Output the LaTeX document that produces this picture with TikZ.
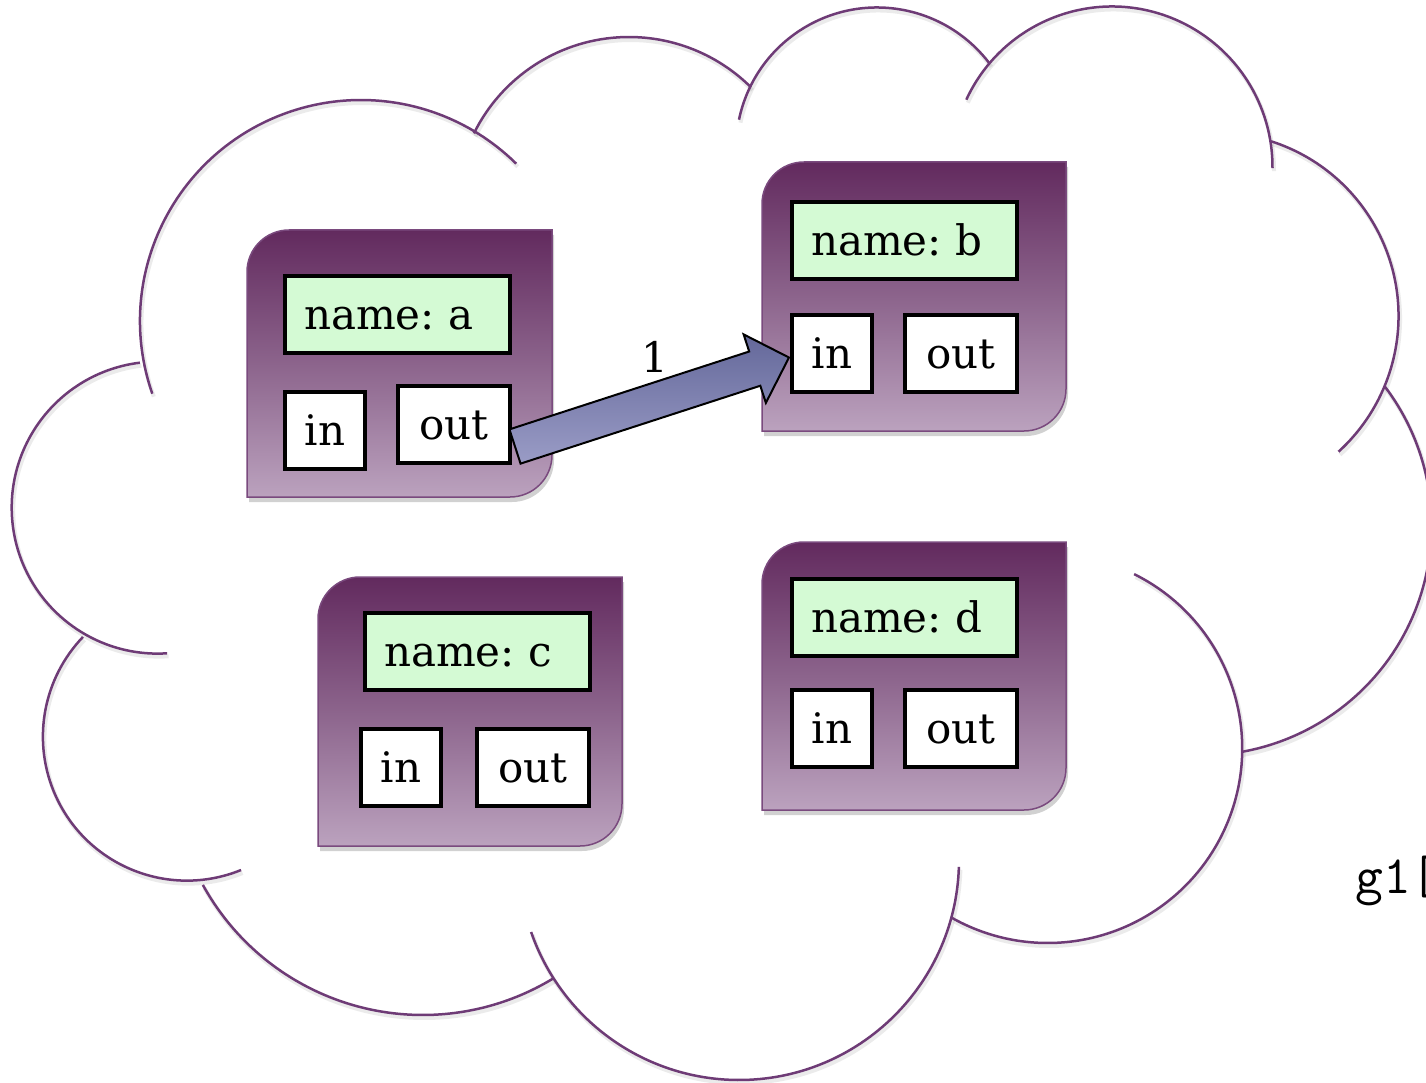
\documentclass[tikz,border=0pt]{standalone}
\usepackage{fontspec}
\setmainfont{DejaVu Serif}
\usetikzlibrary{shapes.arrows,shadows,calc}
\definecolor{cloudline}{HTML}{6E3B76}
\definecolor{boxtop}{HTML}{622A5E}
\definecolor{boxmid}{HTML}{8C648C}
\definecolor{boxbot}{HTML}{BBA2BE}
\definecolor{boxedge}{HTML}{7A4A7E}
\definecolor{namefill}{HTML}{D4FAD4}
\definecolor{arrowtop}{HTML}{64689A}
\definecolor{arrowbot}{HTML}{9A9CC6}
\newcommand\boxfont{\fontsize{42}{50}\selectfont\frenchspacing\spaceskip=0.22em plus 0.1em}
\newcommand\cloudlobes{361/321/221/199.2/45.4, 629/210/173/153.7/45.2, 877/148.5/141/168.2/36.9, 1112/167/160.5/155.2/-0.4, 1215/316/183.5/72.2/-47.7, 1201.5/525.4/230/37.3/-79.9, 1047.6/748.4/194.6/63.6/-119.4, 739/860/220/-1.8/-160.9, 422.8/764/251/-58.5/-151.2, 186.9/736.6/144/-67.9/-223.8, 157.7/507.6/146/273.7/97}
\newcommand\compshape[4]{\path[compbox] (#1,-#4) -- (#1,-#2-42) arc[start angle=180,end angle=90,radius=42] -- (#3,-#2) -- (#3,-#4+42) arc[start angle=0,end angle=-90,radius=42] -- cycle;}
\tikzset{
  cloudarc/.style={draw=cloudline, line width=2.5pt},
  cloudshade/.style={draw=black, opacity=0.08, line width=4pt},
  compbox/.style={draw=boxedge, line width=1.5pt, top color=boxtop, bottom color=boxbot, middle color=boxmid,
    drop shadow={shadow xshift=2pt, shadow yshift=-5pt, opacity=0.18, fill=black}},
  namebox/.style={draw=black, line width=4pt, fill=namefill, anchor=north west, outer sep=0pt,
    inner xsep=19pt, inner ysep=0pt, text width=187pt, align=left, minimum height=77pt,
    text height=38pt, text depth=8pt, font=\boxfont},
  portbox/.style={draw=black, line width=4pt, fill=white, anchor=north west, outer sep=0pt,
    inner sep=0pt, minimum height=77pt, text height=38pt, text depth=8pt, font=\boxfont},
  inbox/.style={portbox, minimum width=80pt},
  outbox/.style={portbox, minimum width=112pt},
  flowarrow/.style={single arrow, draw=black, line width=2pt, top color=arrowtop, bottom color=arrowbot,
    single arrow head extend=18pt, single arrow tip angle=90, inner xsep=0pt, inner ysep=17pt,
    minimum width=0pt, anchor=tail, outer sep=0pt},
}
\begin{document}
\begin{tikzpicture}[x=1pt,y=1pt]
\useasboundingbox (0,0) rectangle (1426,-1083);
\fill[white] (0,0) rectangle (1426,-1083);
% cloud
\begin{scope}[shift={(1.5,-3)}]
\foreach \cx/\cy/\r/\sa/\ea in \cloudlobes
  \draw[cloudshade] ([shift={(\sa:\r)}]\cx,-\cy) arc[start angle=\sa, end angle=\ea, radius=\r];
\end{scope}
\foreach \cx/\cy/\r/\sa/\ea in \cloudlobes
  \draw[cloudarc] ([shift={(\sa:\r)}]\cx,-\cy) arc[start angle=\sa, end angle=\ea, radius=\r];
% component a
\compshape{247}{230}{552}{497}
\node[namebox] (aname) at (285,-276) {name: a};
\node[inbox] (ain) at (285,-392) {in};
\node[outbox] (aout) at (398,-386) {out};
% component b
\compshape{762}{162}{1066}{431}
\node[namebox] (bname) at (792,-202) {name: b};
\node[inbox] (bin) at (792,-315) {in};
\node[outbox] (bout) at (905,-315) {out};
% component c
\compshape{318}{577}{622}{846}
\node[namebox] (cname) at (365,-613) {name: c};
\node[inbox] (cin) at (361,-729) {in};
\node[outbox] (cout) at (477,-729) {out};
% component d
\compshape{762}{542}{1066}{810}
\node[namebox] (dname) at (792,-579) {name: d};
\node[inbox] (din) at (792,-690) {in};
\node[outbox] (dout) at (905,-690) {out};
% link
\coordinate (arrTail) at ($(aout.east)+(5,-22)$);
\coordinate (arrTip) at ($(bin.west)+(-3,-4)$);
\path let \p1=($(arrTip)-(arrTail)$), \n1={atan2(\y1,\x1)}, \n2={veclen(\x1,\y1)} in
  (arrTail) node[flowarrow, rotate=\n1, minimum height=\n2] (link) {};
\node[font=\boxfont] (linklabel) at (655,-357) {1};
% stray text
\node[font={\fontsize{54}{60}\ttfamily\selectfont}, anchor=base west, inner sep=0pt] (gtext) at (1355,-893) {g1[};
\end{tikzpicture}
\end{document}
